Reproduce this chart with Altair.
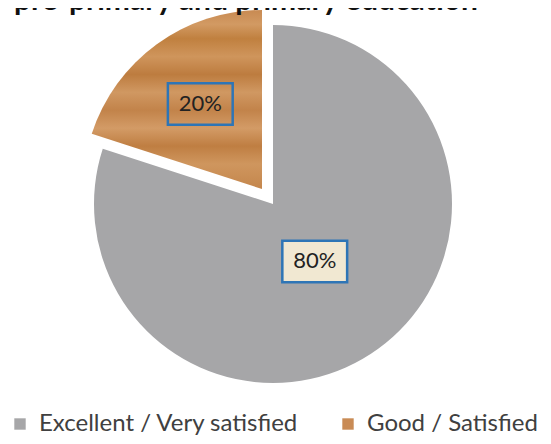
import altair as alt
import pandas as pd

categories = ["Excellent / Very satisfied", "Good / Satisfied"]
values = [80, 20]
labels = ["80%", "20%"]
title_text = "pre-primary and primary education"

df = pd.DataFrame({"cat": categories, "value": values, "label": labels,
                   "order": [0, 1]})

W, H = 535, 428
CX, CY, R = 265, 196, 179
EX, EY = 254, 181  # exploded slice centre

gray = "#a6a6a8"
orange = "#c98b55"

wood = alt.Gradient(
    gradient="linear", x1=0, y1=0, x2=0, y2=1,
    stops=[
        alt.GradientStop(color="#c88a52", offset=0.0),
        alt.GradientStop(color="#d29a63", offset=0.08),
        alt.GradientStop(color="#c0803f", offset=0.16),
        alt.GradientStop(color="#cf955c", offset=0.26),
        alt.GradientStop(color="#bd7c3f", offset=0.36),
        alt.GradientStop(color="#d09862", offset=0.46),
        alt.GradientStop(color="#c2834a", offset=0.56),
        alt.GradientStop(color="#d39b66", offset=0.66),
        alt.GradientStop(color="#bf7e42", offset=0.76),
        alt.GradientStop(color="#cf965e", offset=0.86),
        alt.GradientStop(color="#c4864c", offset=1.0),
    ],
)

base = alt.Chart(df).transform_joinaggregate(
    total="sum(value)"
).transform_window(
    cum="sum(value)", sort=[alt.SortField("order")]
).transform_calculate(
    t0="(datum.cum - datum.value) / datum.total * 2 * PI",
    t1="datum.cum / datum.total * 2 * PI",
    mid="(datum.cum - datum.value / 2) / datum.total * 2 * PI",
)

gray_arc = base.transform_filter(alt.datum.order == 0).mark_arc(
    outerRadius=R, stroke=None
).encode(
    theta=alt.Theta("t0:Q", scale=None),
    theta2="t1:Q",
    x=alt.value(CX), y=alt.value(CY),
    color=alt.Color("cat:N", scale=alt.Scale(domain=categories, range=[gray, orange]),
                    legend=alt.Legend(
                        title=None, orient="none", legendX=0, legendY=404,
                        direction="horizontal", symbolType="square", symbolSize=130,
                        symbolStrokeWidth=0, labelFont="Lato", labelFontSize=24,
                        labelColor="#404040", labelOffset=7, columnPadding=37,
                        labelLimit=400)),
)

orange_arc = base.transform_filter(alt.datum.order == 1).mark_arc(
    outerRadius=R, fill=wood, stroke=None
).encode(
    theta=alt.Theta("t0:Q", scale=None),
    theta2="t1:Q",
    x=alt.value(EX), y=alt.value(EY),
)

def label_layer(order, cx, cy, rho, boxfill):
    b = base.transform_filter(alt.datum.order == order).transform_calculate(
        lx=f"{cx} + {rho} * sin(datum.mid)",
        ly=f"{cy} - {rho} * cos(datum.mid)",
    )
    box = b.mark_point(
        shape="M-1,-0.64 H1 V0.64 H-1 Z", size=1050 * 4, filled=False,
        stroke="#2e75b6", strokeWidth=2.5, fill=boxfill,
        fillOpacity=1 if boxfill else 0, opacity=1,
    ).encode(x=alt.X("lx:Q", scale=None), y=alt.Y("ly:Q", scale=None))
    txt = b.mark_text(font="Lato", fontSize=22, color="#222222", baseline="middle",
                      align="center").encode(
        x=alt.X("lx:Q", scale=None), y=alt.Y("ly:Q", scale=None), text="label:N")
    return box + txt

lab_gray = label_layer(0, CX, CY, 71, "#f1e8d2")
lab_orange = label_layer(1, EX, EY, 105, None)

title = alt.Chart(pd.DataFrame({"t": [title_text]})).mark_text(
    font="Lato", fontSize=30, fontWeight="bold", align="left", baseline="alphabetic",
    color="#111111"
).encode(x=alt.value(6), y=alt.value(2), text="t:N")

chart = alt.layer(gray_arc, orange_arc, lab_gray, lab_orange, title).properties(
    width=W, height=H, autosize=alt.AutoSizeParams(type="none"), padding=0,
    background="white"
).configure_view(stroke=None)

chart.save("out.html", embed_options={"renderer": "svg", "actions": False})
